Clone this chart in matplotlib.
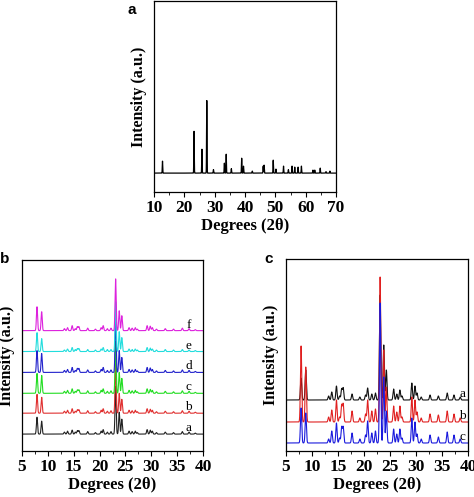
"""XRD patterns: (a) single reference pattern, (b) six stacked samples, (c) three overlaid samples."""
import numpy as np
import matplotlib.pyplot as plt
from matplotlib.ticker import MultipleLocator

# ---- panel a: peak list (2theta, height above baseline) ----
a_pos = [12.8, 23.2, 25.8, 27.4, 29.6, 33.2, 33.8, 35.5, 38.9, 39.5, 42.4,
         46.0, 46.3, 49.3, 50.2, 52.7, 54.3, 55.5, 56.4, 57.5, 58.6, 62.4,
         63.0, 64.8, 66.7, 68.0]
a_hgt = [12, 42, 24, 73, 3.5, 10, 19, 4.5, 15, 7, 2,
         7, 8, 13, 4, 7, 3.5, 7, 6, 6, 7, 3,
         3, 5, 1.5, 2]
a_base = 19

# ---- panel b / c: common peak positions ----
pk_pos = [7.9, 8.8, 13.2, 13.8, 14.7, 15.3, 15.7, 16.0, 17.7, 19.2, 20.3,
          20.7, 21.5, 22.2, 23.1, 23.8, 24.3, 25.7, 26.3, 26.9, 27.3, 29.2,
          29.8, 30.2, 31.0, 32.7, 34.3, 36.0, 37.3, 38.5]

# panel b: relative heights per sample (a..f)
b_hgt = {
    "a": [17, 13, 2, 3, 4, 2, 3.5, 3.5, 2.5, 1.5, 3, 4.5, 2, 2.5, 48, 22, 15,
          3, 2.5, 3, 1.5, 4.5, 4, 3, 1.5, 2, 1.5, 2.5, 2, 1],
    "b": [19, 16, 2, 3, 4.5, 2, 3.5, 3.5, 2.5, 1.5, 3, 4.5, 2, 2.5, 50, 20, 14,
          3, 2.5, 3, 1.5, 4.5, 4, 3, 1.5, 2, 1.5, 2.5, 2, 1],
    "c": [20, 18, 2, 3, 4.5, 2, 3.5, 3.5, 2.5, 1.5, 3, 4.5, 2, 2.5, 52, 21, 15,
          3, 2.5, 3, 1.5, 4.5, 4, 3, 1.5, 2, 1.5, 2.5, 2, 1],
    "d": [22, 19, 2, 3, 5, 2, 4, 4, 2.5, 1.5, 3, 5, 2, 2.5, 55, 22, 15,
          3, 2.5, 3, 1.5, 5, 4.5, 3, 1.5, 2, 1.5, 2.5, 2, 1],
    "e": [19, 13, 1.5, 2.5, 4, 2, 3, 3, 2, 1.5, 2.5, 4, 2, 2, 50, 20, 14,
          2.5, 2, 2.5, 1.5, 4, 3.5, 2.5, 1.5, 2, 1.5, 2, 1.5, 1],
    "f": [24, 19, 2, 3, 5, 2, 4, 4, 2.5, 1.5, 3, 5, 2, 2.5, 52, 20, 15,
          3, 2.5, 3, 1.5, 5, 4.5, 3, 1.5, 2, 1.5, 2.5, 2, 1],
}
b_base = {"a": 17, "b": 38, "c": 58, "d": 79, "e": 100, "f": 121}
b_colors = {"a": "#222222", "b": "#e03030", "c": "#22dd22",
            "d": "#2222cc", "e": "#22dddd", "f": "#dd22dd"}

# panel c: relative heights per sample (a..c)
c_hgt = {
    "a": [22, 30, 4, 8, 14, 4, 11, 12, 6, 3, 5, 12, 6, 7, 105, 55, 30,
          11, 6, 10, 4, 17, 14, 7, 3, 5, 4, 7, 5, 3],
    "b": [76, 55, 5, 12, 22, 5, 17, 18, 11, 4, 8, 22, 11, 13, 145, 72, 35,
          16, 10, 16, 5, 25, 22, 10, 4, 8, 7, 11, 8, 4],
    "c": [35, 30, 4, 12, 20, 5, 16, 16, 10, 4, 8, 22, 10, 12, 140, 66, 32,
          14, 9, 14, 5, 25, 21, 9, 4, 8, 6, 11, 8, 4],
}
c_base = {"a": 51, "b": 29, "c": 8}
c_colors = {"a": "#111111", "b": "#e02020", "c": "#1a1add"}

SERIF = "Liberation Serif"
SANS = "Liberation Sans"


def pattern(x, pos, hgt, base, width):
    y = np.full_like(x, float(base))
    for p, h in zip(pos, hgt):
        y += h * np.exp(-0.5 * ((x - p) / width) ** 2)
    return y


def style_axes(ax, xmin, xmax, major, minor):
    ax.set_xlim(xmin, xmax)
    ax.set_ylim(0, 192)
    ax.set_yticks([])
    ax.xaxis.set_major_locator(MultipleLocator(major))
    ax.xaxis.set_minor_locator(MultipleLocator(minor))
    ax.tick_params(axis="x", which="major", length=3.5, width=0.8,
                   labelsize=12.5, pad=2)
    ax.tick_params(axis="x", which="minor", length=2, width=0.6)
    for lab in ax.get_xticklabels():
        lab.set_fontfamily(SERIF)
        lab.set_fontweight("bold")
    for sp in ax.spines.values():
        sp.set_linewidth(0.9)
    ax.set_xlabel("Degrees (2θ)", fontfamily=SERIF, fontweight="bold",
                  fontsize=12, labelpad=2)
    ax.set_ylabel("Intensity (a.u.)", fontfamily=SERIF, fontweight="bold",
                  fontsize=11.5, labelpad=5)


W, H = 474, 497
fig = plt.figure(figsize=(W / 100, H / 100), dpi=100)


def add_axes(l, t, r, b):
    return fig.add_axes([l / W, 1 - b / H, (r - l) / W, (b - t) / H])


# panel a
ax_a = add_axes(154, 1, 336, 192)
xa = np.linspace(10, 70, 6000)
ax_a.plot(xa, pattern(xa, a_pos, a_hgt, a_base, 0.07), color="black", lw=0.9)
style_axes(ax_a, 10, 70, 10, 5)
fig.text(132 / W, 1 - 10 / H, "a", fontfamily=SANS, fontweight="bold",
         fontsize=11, ha="center", va="center")

# panel b
ax_b = add_axes(22, 260, 203, 451)
xb = np.linspace(5, 40, 5000)
for k in ["a", "b", "c", "d", "e", "f"]:
    ax_b.plot(xb, pattern(xb, pk_pos, b_hgt[k], b_base[k], 0.11),
              color=b_colors[k], lw=0.8)
    ax_b.text(37.2, b_base[k] + 6, k, fontfamily=SERIF, fontsize=9.5,
              ha="center", va="center")
style_axes(ax_b, 5, 40, 5, 2.5)
fig.text(0, 1 - 259 / H, "b", fontfamily=SANS, fontweight="bold",
         fontsize=11, ha="left", va="center")

# panel c
ax_c = add_axes(286, 259, 468, 451)
for k in ["a", "b", "c"]:
    ax_c.plot(xb, pattern(xb, pk_pos, c_hgt[k], c_base[k], 0.12),
              color=c_colors[k], lw=0.8)
    ax_c.text(39.0, c_base[k] + 6, k, fontfamily=SERIF, fontsize=9.5,
              ha="center", va="center")
style_axes(ax_c, 5, 40, 5, 2.5)
fig.text(269 / W, 1 - 259 / H, "c", fontfamily=SANS, fontweight="bold",
         fontsize=11, ha="center", va="center")

fig.savefig("out.png", dpi=100)
